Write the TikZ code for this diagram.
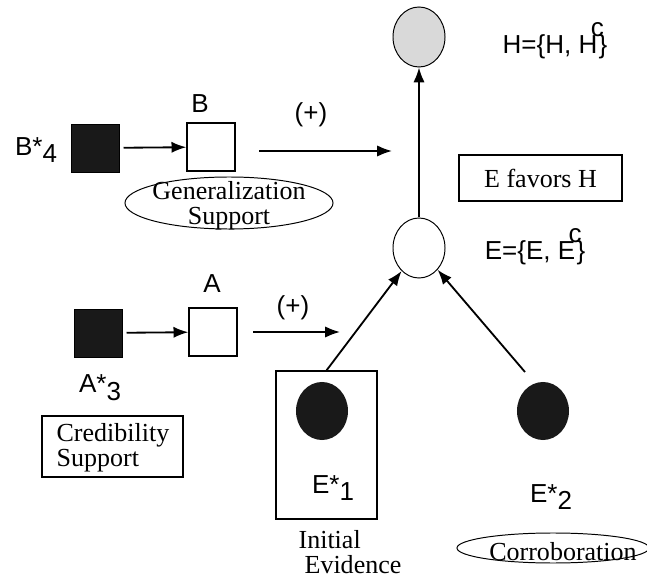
\documentclass[tikz,border=0pt]{standalone}
\usepackage{fontspec}
\setmainfont{Liberation Serif}
\setsansfont{Liberation Sans}
\usepackage{tikz}
\usetikzlibrary{calc,shapes.geometric,arrows.meta}
\usepackage{xcolor}
\newcommand{\starsub}[2]{#1*\raisebox{-0.3em}{#2}}
\newcommand{\withc}[1]{#1\kern-0.25em\raisebox{0.65em}{c}\kern-0.2em}
\tikzset{
  sanslab/.style={font=\sffamily\fontsize{18.5}{21}\selectfont, inner sep=0pt},
  seriflab/.style={font=\fontsize{18.5}{17.5}\selectfont, align=center, inner sep=0pt},
  blacksq/.style={draw=black, fill=black!90, minimum size=1.2cm, inner sep=0pt},
  whitesq/.style={draw=black, line width=1pt, minimum size=1.2cm, inner sep=0pt},
  varnode/.style={ellipse, draw=black, line width=0.7pt, minimum width=1.3cm, minimum height=1.5cm, inner sep=0pt},
  evnode/.style={ellipse, fill=black!90, minimum width=1.3cm, minimum height=1.45cm, inner sep=0pt},
  oval/.style={ellipse, draw=black, line width=0.7pt, inner sep=0pt},
  link/.style={-{Latex[length=10.5pt,width=8pt]}, line width=1.3pt},
}

\begin{document}
\begin{tikzpicture}[x=0.025cm, y=-0.025cm]
    \coordinate (O) at (0,0);
    \useasboundingbox (O) rectangle (647,578);

    \node[varnode, fill=gray!30] (H) at (419,37) {};
    \node[varnode] (E) at (419,248) {};
    \node[sanslab] (Hset) at (555,41) {H=\{H, \withc{H}\}};
    \node[sanslab] (Eset) at (535,247) {E=\{E, \withc{E}\}};
    \node[seriflab, draw, line width=0.8pt, minimum width=4.075cm, minimum height=1.15cm] (favors) at (540.5,178) {E favors H};

    \node[blacksq] (Bstar) at (95,148) {};
    \node[whitesq] (B) at (211,147) {};
    \node[sanslab] (Blab) at (200,104) {B};
    \node[sanslab] (Bstarlab) at (36,150) {\starsub{B}{4}};
    \coordinate (Bfrom) at (259,151);
    \coordinate (Bto) at (392,151);
    \node[sanslab] (Bplus) at (311,115) {(+)};
    \node[oval, minimum width=5.2cm, minimum height=1.3cm] (genoval) at (229,203) {};
    \node[seriflab] (gen) at (229,206) {Generalization\\Support};

    \node[blacksq] (Astar) at (98,333) {};
    \node[whitesq] (A) at (213,332) {};
    \node[sanslab] (Alab) at (212,284) {A};
    \node[sanslab] (Astarlab) at (100,388) {\starsub{A}{3}};
    \coordinate (Afrom) at (253,332);
    \coordinate (Ato) at (340,332);
    \node[sanslab] (Aplus) at (293,308) {(+)};
    \node[draw, line width=0.8pt, minimum width=3.525cm, minimum height=1.525cm] (cred) at (112.5,446.5) {};
    \node[seriflab, align=left] (credtext) at (113,448) {Credibility\\Support};

    \node[draw, line width=0.8pt, minimum width=2.525cm, minimum height=3.7cm] (E1box) at (326.5,445) {};
    \node[evnode] (E1) at (322,411) {};
    \node[evnode] (E2) at (543,411) {};
    \node[sanslab] (E1lab) at (333,488) {\starsub{E}{1}};
    \node[sanslab] (E2lab) at (551,497) {\starsub{E}{2}};
    \coordinate (E2from) at (525,372);
    \node[seriflab, align=left] (initial) at (350,552) {Initial\\\hspace*{1.5mm}Evidence};
    \node[oval, minimum width=4.8cm, minimum height=0.75cm] (corroval) at (553,548) {};
    \node[seriflab] (corro) at (563,552) {Corroboration};

    \draw[link, shorten <=3pt] (Bstar) -- (B);
    \draw[link] (Bfrom) -- (Bto);
    \draw[link, shorten <=3pt] (Astar) -- (A);
    \draw[link] (Afrom) -- (Ato);
    \draw[link] (E) -- (H);
    \draw[link] (E1box.north) -- (E);
    \draw[link] (E2from) -- (E);
\end{tikzpicture}
\end{document}
